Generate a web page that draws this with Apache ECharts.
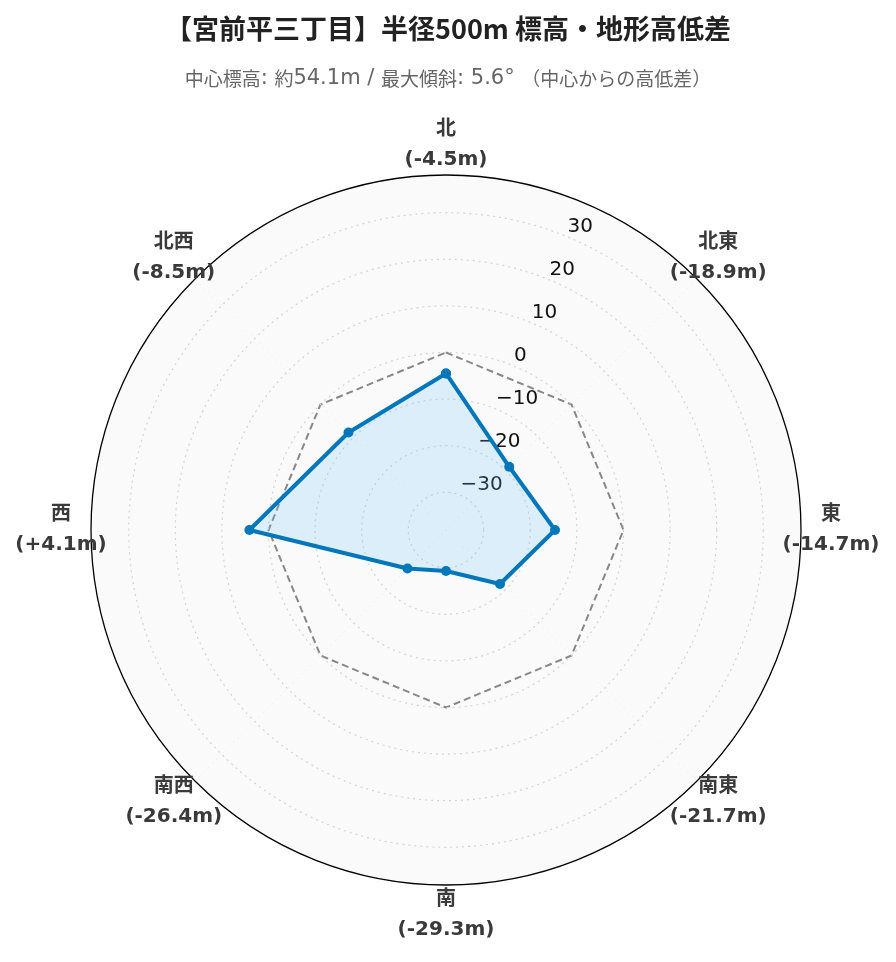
<!DOCTYPE html>
<html>
<head>
<meta charset="utf-8">
<script src="https://cdn.jsdelivr.net/npm/echarts@6/dist/echarts.min.js"></script>
<style>
html,body{margin:0;padding:0;background:#fff;}
#chart{width:896px;height:962px;}
</style>
</head>
<body>
<div id="chart"></div>
<script>
// ---- data ----
const directions = ['北', '北東', '東', '南東', '南', '南西', '西', '北西'];
const diffs = [-4.5, -18.9, -14.7, -21.7, -29.3, -26.4, 4.1, -8.5];
const zeroLine = [0, 0, 0, 0, 0, 0, 0, 0];
const radialTicks = [-30, -20, -10, 0, 10, 20, 30];
const radialMin = -38.09;
const radialMax = 38.09;
const titleText = '【宮前平三丁目】半径500m 標高・地形高低差';
const subText = '中心標高: 約54.1m / 最大傾斜: 5.6° （中心からの高低差）';

// angle axis order (clockwise starting from NE so the radial labels sit between N and NE)
const angleCats = directions.slice(1).concat(directions.slice(0, 1));
function closed(vals) {
  const pts = directions.map((d, i) => [vals[i], angleCats.indexOf(d)]);
  pts.push([vals[0], angleCats.indexOf(directions[0])]);
  return pts;
}
function fmtDiff(v) {
  return (v > 0 ? '+' : '') + v.toFixed(1) + 'm';
}
// split subtitle into CJK / Latin runs for mixed-font rendering
function mixRich(s) {
  return s.split(/([\u3000-\u9fff\uff00-\uffef]+)/).filter(t => t.length)
    .map(t => /[\u3000-\u9fff\uff00-\uffef]/.test(t) ? '{c|' + t + '}' : '{l|' + t + '}').join('');
}
const labelGap = 30;
const dirLabels = directions.map((d, i) => {
  const a = i * Math.PI / 4;
  return {
    value: [radialMax, angleCats.indexOf(d)],
    label: {offset: [labelGap * Math.sin(a), -labelGap * Math.cos(a)]},
    name: d,
    diff: diffs[i]
  };
});

const chart = echarts.init(document.getElementById('chart'), null, {renderer: 'canvas'});
chart.setOption({
  backgroundColor: '#ffffff',
  animation: false,
  title: {
    text: titleText,
    subtext: mixRich(subText),
    left: 'center',
    top: 9,
    itemGap: 23,
    textStyle: {
      fontFamily: 'Noto Sans CJK JP',
      fontSize: 27,
      fontWeight: 'bold',
      color: '#222',
      lineHeight: 30
    },
    subtextStyle: {
      fontFamily: 'DejaVu Sans, Noto Sans CJK JP',
      fontSize: 18,
      color: '#666',
      lineHeight: 24,
      rich: {
        c: {fontFamily: 'Noto Sans CJK JP', fontSize: 19, color: '#666', lineHeight: 24},
        l: {fontFamily: 'DejaVu Sans', fontSize: 21, color: '#666', lineHeight: 24}
      }
    }
  },
  polar: {
    center: [446, 530],
    radius: 355
  },
  angleAxis: {
    type: 'category',
    data: angleCats,
    startAngle: 67.5,
    clockwise: true,
    boundaryGap: true,
    axisLine: {show: true, lineStyle: {color: '#000', width: 1.3}},
    axisTick: {show: false, alignWithLabel: true},
    splitLine: {show: true, lineStyle: {color: '#d4d4d4', type: [2, 4], width: 1.2}},
    splitArea: {show: true, areaStyle: {color: ['#fafafa', '#fafafa']}},
    axisLabel: {show: false},
    z: 1
  },
  radiusAxis: {
    type: 'value',
    min: radialMin,
    max: radialMax,
    axisLine: {show: false},
    axisTick: {show: false, customValues: radialTicks},
    splitLine: {show: true, lineStyle: {color: '#d4d4d4', type: [2, 4], width: 1.2}},
    axisLabel: {
      customValues: radialTicks,
      margin: 0,
      align: 'left',
      verticalAlign: 'bottom',
      fontFamily: 'DejaVu Sans',
      fontSize: 20,
      color: '#111',
      formatter: function (v) {
        return v < 0 ? '\u2212' + Math.abs(v) : String(v);
      }
    },
    z: 3
  },
  series: [
    {
      type: 'line',
      coordinateSystem: 'polar',
      data: closed(zeroLine),
      showSymbol: false,
      symbol: 'none',
      lineStyle: {color: '#888', width: 2, type: [7, 4]},
      z: 2
    },
    {
      type: 'line',
      coordinateSystem: 'polar',
      data: closed(diffs),
      symbol: 'circle',
      symbolSize: 10,
      itemStyle: {color: '#0077bb'},
      lineStyle: {color: '#0077bb', width: 4},
      areaStyle: {color: 'rgba(110,195,245,0.3)', origin: 'start'},
      z: 4
    },
    {
      type: 'scatter',
      coordinateSystem: 'polar',
      data: dirLabels,
      symbolSize: 0,
      silent: true,
      itemStyle: {opacity: 1, color: '#3a3a3a'},
      label: {
        show: true,
        position: 'inside',
        align: 'center',
        verticalAlign: 'middle',
        color: '#3a3a3a',
        opacity: 1,
        textBorderWidth: 0,
        formatter: function (p) {
          return '{a|' + p.data.name + '}\n{b|(' + fmtDiff(p.data.diff) + ')}';
        },
        rich: {
          a: {fontFamily: 'DejaVu Sans, Noto Sans CJK JP', fontSize: 20, fontWeight: 'bold', color: '#3a3a3a', lineHeight: 30, align: 'center', textBorderWidth: 0},
          b: {fontFamily: 'DejaVu Sans', fontSize: 20, fontWeight: 'bold', color: '#3a3a3a', lineHeight: 30, align: 'center', textBorderWidth: 0}
        }
      },
      z: 5
    }
  ]
});
</script>
</body>
</html>
